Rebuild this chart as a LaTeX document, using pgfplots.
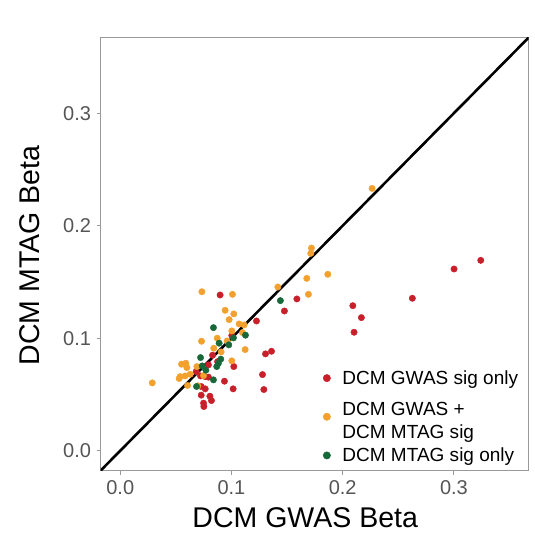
\documentclass[border=0pt]{standalone}
\usepackage{pgfplots}
\pgfplotsset{compat=1.18}
\usepackage{fontspec}
\setmainfont{Liberation Sans}
\definecolor{cred}{HTML}{C8202A}
\definecolor{corange}{HTML}{F2A12E}
\definecolor{cgreen}{HTML}{17693A}
\definecolor{tickgray}{HTML}{555555}
\definecolor{framegray}{HTML}{999999}
\begin{document}
\begin{tikzpicture}
\begin{axis}[
  name=ax,
  scale only axis,
  width=428pt, height=433pt,
  xmin=-0.0177, xmax=0.3672,
  ymin=-0.0177, ymax=0.3672,
  xtick={0,0.1,0.2,0.3}, ytick={0,0.1,0.2,0.3},
  xticklabels={0.0,0.1,0.2,0.3}, yticklabels={0.0,0.1,0.2,0.3},
  xtick pos=left, ytick pos=left,
  tick align=outside, major tick length=4pt,
  axis line style={framegray, line width=0.9pt},
  tick style={framegray, line width=0.9pt},
  ticklabel style={font=\fontsize{20}{24}\selectfont, text=tickgray},
  xticklabel style={yshift=-2pt},
  yticklabel style={xshift=-2pt},
  xlabel={DCM GWAS Beta}, ylabel={DCM MTAG Beta},
  label style={font=\fontsize{28.5}{32}\selectfont},
  xlabel style={at={(axis description cs:0.478,-0.108)}, anchor=center},
  ylabel style={at={(axis description cs:-0.165,0.497)}, anchor=center},
  clip=true,
  legend cell align=left,
  legend image code/.code={%
    \path[#1, draw=none, fill=none, mark size=3.7pt] plot[only marks] coordinates {(0.3cm,0cm)};
    \path[draw=none, fill=none] (0cm,0cm) -- (0.6cm+5pt,0cm);},
  legend style={draw=none, fill=none, font=\fontsize{19}{23}\selectfont,
    at={(axis description cs:0.5012,0.241)}, anchor=north west,
    nodes={align=left}, row sep=4pt},
]
\addplot[black, line width=2.6pt, forget plot] coordinates {(-0.05,-0.05) (0.4,0.4)};
\addplot[only marks, mark=*, mark size=3.2pt, draw=cred, fill=cred, mark options={draw=cred, fill=cred}] coordinates {
(0.0898,0.1384) (0.1225,0.1153) (0.1003,0.1024) (0.1306,0.0861) (0.1360,0.0884)
(0.0830,0.0849) (0.0793,0.0763) (0.1021,0.0748) (0.0683,0.0704) (0.0722,0.0665)
(0.0793,0.0654) (0.1279,0.0677) (0.0937,0.0618) (0.0728,0.0571) (0.0764,0.0550)
(0.1015,0.0550) (0.1291,0.0544) (0.0728,0.0494) (0.0806,0.0485) (0.0820,0.0446)
(0.0749,0.0423) (0.0752,0.0393) (0.0764,0.0659) (0.1588,0.1349) (0.1476,0.1242)
(0.3241,0.1692) (0.3001,0.1615) (0.2626,0.1355) (0.2091,0.1289) (0.2168,0.1183)
(0.2102,0.1053) (0.0875,0.0792)
};
\addlegendentry{DCM GWAS sig only}
\addplot[only marks, mark=*, mark size=3.2pt, draw=corange, fill=corange, mark options={draw=corange, fill=corange}] coordinates {
(0.0734,0.1413) (0.1009,0.1390) (0.0943,0.1248) (0.1021,0.1216) (0.0979,0.1165)
(0.1069,0.1127) (0.1114,0.1118) (0.1003,0.1065) (0.1099,0.1050) (0.0872,0.1000)
(0.0731,0.0973) (0.0961,0.0976) (0.0841,0.0911) (0.0907,0.0878) (0.1123,0.0899)
(0.0551,0.0769) (0.0590,0.0778) (0.0599,0.0739) (0.1003,0.0799) (0.0689,0.0748)
(0.0629,0.0680) (0.0539,0.0659) (0.0530,0.0642) (0.0584,0.0665) (0.0749,0.0668)
(0.0288,0.0603) (0.0605,0.0580) (0.0698,0.0577) (0.1417,0.1455) (0.2264,0.2331)
(0.1719,0.1801) (0.1713,0.1754) (0.1866,0.1568) (0.1677,0.1532) (0.1692,0.1390)
};
\addlegendentry{\rule{0pt}{21.5pt}DCM GWAS +\\DCM MTAG sig}
\addplot[only marks, mark=*, mark size=3.2pt, draw=cgreen, fill=cgreen, mark options={draw=cgreen, fill=cgreen}] coordinates {
(0.0838,0.1094) (0.1126,0.1027) (0.1018,0.1003) (0.0889,0.0956) (0.0976,0.0941)
(0.0722,0.0828) (0.0904,0.0814) (0.0883,0.0778) (0.0868,0.0748) (0.0737,0.0754)
(0.0770,0.0716) (0.0838,0.0630) (0.0686,0.0571) (0.1440,0.1334)
};
\addlegendentry{DCM MTAG sig only}
\node[font=\fontsize{34}{38}\selectfont, anchor=center] at (axis description cs:-0.1787,1.0316) {b};
\end{axis}
\path ([xshift=-100.5pt,yshift=-66.3pt]ax.south west) rectangle ([xshift=5.5pt,yshift=37.5pt]ax.north east);
\end{tikzpicture}
\end{document}
